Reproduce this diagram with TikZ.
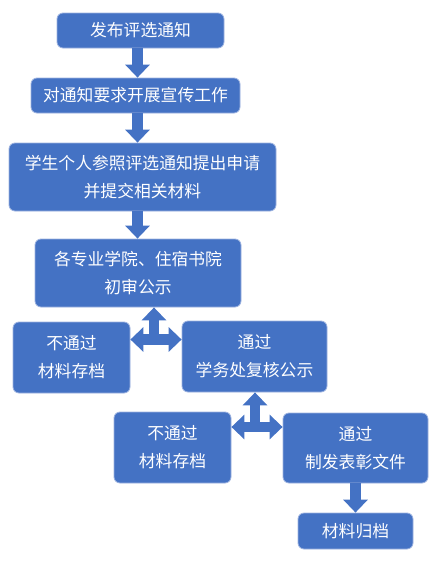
\documentclass[tikz,border=0pt]{standalone}
\usepackage{fontspec}
\newfontfamily\cjk{Noto Sans CJK SC}
\usetikzlibrary{arrows.meta}
\definecolor{boxblue}{HTML}{4472C4}
\definecolor{edgeblue}{HTML}{9DB3E0}
\tikzstyle{box} = [rectangle, rounded corners=6pt, fill=boxblue, draw=edgeblue, line width=0.8pt, text=white, align=center, inner sep=0pt, font=\cjk\fontsize{16.8}{28}\selectfont]
\tikzstyle{flow} = [draw=boxblue, line width=10.5pt, >={Triangle[width=24pt,length=13pt]}]

\begin{document}
\begin{tikzpicture}[x=1pt,y=-1pt]
\useasboundingbox (0,0) rectangle (434,562);
\node[box, minimum width=167pt, minimum height=35pt] (fabu) at (140.5,30.5) {发布评选通知};
\node[box, minimum width=209pt, minimum height=35pt] (xuanchuan) at (135.5,95.5) {对通知要求开展宣传工作};
\node[box, minimum width=267pt, minimum height=68pt] (shenqing) at (142.5,177) {学生个人参照评选通知提出申请\\并提交相关材料};
\node[box, minimum width=206pt, minimum height=68pt] (chushen) at (138,273) {各专业学院、住宿书院\\初审公示};
\node[box, minimum width=117pt, minimum height=71pt] (butongguoA) at (71.5,357.5) {不通过\\材料存档};
\node[box, minimum width=145pt, minimum height=71pt] (fuhe) at (254.5,356.5) {通过\\学务处复核公示};
\node[box, minimum width=117pt, minimum height=71pt] (butongguoB) at (172.5,447.5) {不通过\\材料存档};
\node[box, minimum width=145pt, minimum height=70pt] (biaozhang) at (355.5,448) {通过\\制发表彰文件};
\node[box, minimum width=115pt, minimum height=36pt] (guidang) at (355.5,531) {材料归档};
\coordinate (ax) at (137.5,0);
\coordinate (jA) at (154,339.5);
\coordinate (jB) at (255,427);
\draw[flow,->] (fabu.south -| ax) -- (xuanchuan.north -| ax);
\draw[flow,->] (xuanchuan.south -| ax) -- (shenqing.north -| ax);
\draw[flow,->] (shenqing.south -| ax) -- (chushen.north -| ax);
\draw[flow,<->] (jA -| butongguoA.east) -- (jA -| fuhe.west);
\draw[flow,->] (jA) -- (jA |- chushen.south);
\draw[flow,<->] (jB -| butongguoB.east) -- (jB -| biaozhang.west);
\draw[flow,->] (jB) -- (jB |- fuhe.south);
\draw[flow,->] (biaozhang) -- (guidang);
\end{tikzpicture}
\end{document}
